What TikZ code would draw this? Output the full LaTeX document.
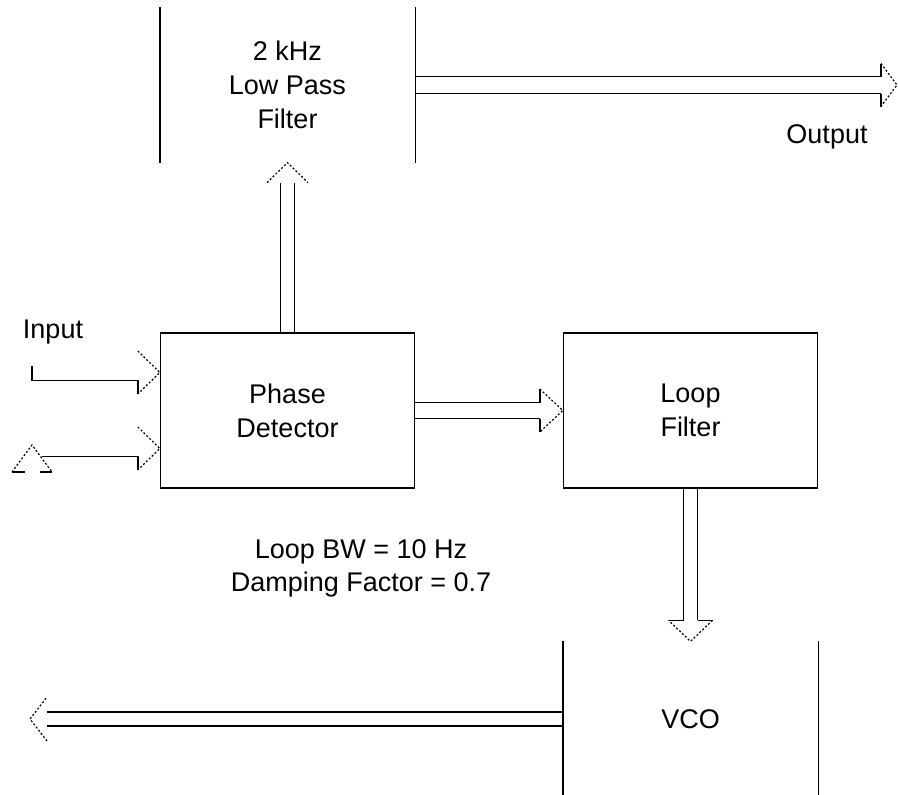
\documentclass[tikz,border=0pt]{standalone}
\usepackage{fontspec}
\setmainfont{Liberation Sans}
\usetikzlibrary{calc}
\tikzset{
 ln/.style={line width=1.3pt, line cap=butt},
 dt/.style={line width=1.2pt, dash pattern=on 2pt off 2pt},
 blk/.style={draw, line width=1.3pt, minimum width=254pt, minimum height=155pt, align=center, inner sep=0pt, font=\fontsize{27}{34}\selectfont},
 openblk/.style={blk, draw=none},
 lbl/.style={align=center, inner sep=0pt, font=\fontsize{27}{33}\selectfont},
 fl/.style={ln,draw}, nofl/.style={}
}
\newcommand\hollow[6][fl]{%
 \coordinate (hb) at ($(#3)!#6!(#2)$);
 \draw[ln] ($(#2)!#4!90:(#3)$) -- ($(hb)!#4!-90:(#2)$);
 \draw[ln] ($(#2)!#4!-90:(#3)$) -- ($(hb)!#4!90:(#2)$);
 \path[#1] ($(hb)!#4!-90:(#2)$) -- ($(hb)!#5!-90:(#2)$);
 \path[#1] ($(hb)!#4!90:(#2)$) -- ($(hb)!#5!90:(#2)$);
 \draw[dt] ($(hb)!#5!-90:(#2)$) -- (#3) -- ($(hb)!#5!90:(#2)$);
}
\begin{document}
\begin{tikzpicture}[x=1pt,y=-1pt]
\useasboundingbox[fill=white] (0,0) rectangle (898,795);
% blocks
\node[openblk, minimum height=154pt] (lpf) at (287.5,85) {2 kHz\\Low Pass\\Filter};
\draw[ln] (lpf.north west) -- (lpf.south west);
\draw[ln] (lpf.north east) -- (lpf.south east);
\node[blk] (pd) at (287.5,410.5) {Phase\\Detector};
\node[blk] (lf) at (690.5,410.5) {Loop\\Filter};
\node[openblk, minimum height=154pt] (vco) at (690.5,719) {VCO};
\draw[ln] (vco.north west) -- (vco.south west);
\draw[ln] (vco.north east) -- (vco.south east);
% labels
\node[lbl] (note) at (361,568.5) {Loop BW = 10 Hz\\Damping Factor = 0.7};
\node[lbl] (in) at (53,332) {Input};
\node[lbl] (out) at (827,137) {Output};
% hollow arrows
\coordinate (outtip) at (897,85);
\hollow{lpf.east}{outtip}{8.5pt}{21.5pt}{16pt}
\hollow[nofl]{pd.north}{lpf.south}{7pt}{20.5pt}{20pt}
\hollow{pd.east}{lf.west}{8pt}{21.5pt}{23pt}
\hollow{lf.south}{vco.north}{7pt}{22pt}{21pt}
\coordinate (vcotip) at (30,719);
\hollow[nofl]{vco.west}{vcotip}{7pt}{22pt}{17pt}
% input arrow 1
\coordinate (t1) at ($(pd.west)+(0,-38)$);
\coordinate (in1) at (32,366);
\coordinate (in1b) at (32,380.5);
\draw[ln] (in1) -- (in1b) -- ($(t1)+(-22,8)$) -- ($(t1)+(-22,21.5)$);
\draw[dt] ($(t1)+(-22,-21.5)$) -- (t1) -- ($(t1)+(-22,21.5)$);
% input arrow 2 with ground-like head
\coordinate (t2) at ($(pd.west)+(0,38)$);
\coordinate (gap) at (32,445);
\coordinate (gl) at (12,472);
\coordinate (gr) at (52,472);
\coordinate (g2) at (41.5,456.5);
\draw[dt] (gl) -- (gap) -- (gr);
\draw[ln] (gl) -- ++(13,0);
\draw[ln] (gr) -- ++(-12,0);
\draw[ln] (g2) -- ($(t2)+(-22,8)$) -- ($(t2)+(-22,21.5)$);
\draw[dt] ($(t2)+(-22,-21.5)$) -- (t2) -- ($(t2)+(-22,21.5)$);
\end{tikzpicture}
\end{document}
